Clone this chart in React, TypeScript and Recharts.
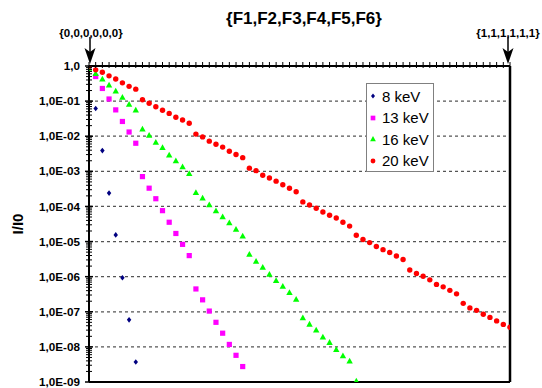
import { ScatterChart, Scatter, XAxis, YAxis, ReferenceLine, Legend } from 'recharts';

// index of the {F1..F6} configuration, 0 = {0,0,0,0,0,0} ... 63 = {1,1,1,1,1,1}
// values are log10(I/I0)
const kev8 = [0, -1.21, -2.41, -3.62, -4.81, -6.03, -7.23, -8.43];
const kev13 = [
  -0.03, -0.3, -0.64, -0.94, -1.25, -1.58, -1.88, -2.2,
  -3.15, -3.48, -3.78, -4.12, -4.45, -4.77, -5.08, -5.4,
  -6.35, -6.66, -6.98, -7.3, -7.61, -7.93, -8.24, -8.56,
];
const kev16 = [
  -0.06, -0.21, -0.37, -0.54, -0.71, -0.89, -1.09, -1.25,
  -1.79, -1.97, -2.17, -2.32, -2.53, -2.7, -2.87, -3.06,
  -3.6, -3.76, -3.95, -4.12, -4.29, -4.46, -4.65, -4.84,
  -5.36, -5.56, -5.73, -5.93, -6.11, -6.27, -6.45, -6.64,
  -7.17, -7.35, -7.52, -7.72, -7.87, -8.07, -8.25, -8.4,
  -8.97,
];
const kev20 = [
  0, -0.11, -0.18, -0.28, -0.37, -0.48, -0.58, -0.66,
  -0.96, -1.06, -1.16, -1.26, -1.35, -1.46, -1.54, -1.63,
  -1.94, -2.02, -2.14, -2.23, -2.31, -2.43, -2.52, -2.61,
  -2.91, -2.98, -3.11, -3.19, -3.28, -3.38, -3.48, -3.58,
  -3.87, -3.96, -4.05, -4.16, -4.25, -4.33, -4.45, -4.56,
  -4.82, -4.94, -5.03, -5.14, -5.23, -5.31, -5.41, -5.51,
  -5.81, -5.91, -5.99, -6.09, -6.22, -6.29, -6.39, -6.49,
  -6.76, -6.89, -6.96, -7.07, -7.16, -7.26, -7.36, -7.44,
];

const decadeTicks = [1, 1e-1, 1e-2, 1e-3, 1e-4, 1e-5, 1e-6, 1e-7, 1e-8, 1e-9];
const decadeLabels = ['1,0', '1,0E-01', '1,0E-02', '1,0E-03', '1,0E-04', '1,0E-05', '1,0E-06', '1,0E-07', '1,0E-08', '1,0E-09'];
const minorSteps = [2, 3, 4, 5, 6, 7, 8, 9];
const xTicks = Array.from({ length: 64 }, (_, i) => i);

const FONT = "'Liberation Sans', Arial, sans-serif";

const toPoints = (vals: number[]) => vals.map((v, i) => ({ x: i, y: Math.pow(10, v) }));

const series = [
  { name: '8 keV', data: toPoints(kev8), color: '#000080', kind: 'diamond' },
  { name: '13 keV', data: toPoints(kev13), color: '#ff00ff', kind: 'square' },
  { name: '16 keV', data: toPoints(kev16), color: '#00ff00', kind: 'triangle' },
  { name: '20 keV', data: toPoints(kev20), color: '#ff0000', kind: 'circle' },
];

const yTicks: number[] = [...decadeTicks];
decadeTicks.slice(1).forEach((d) => minorSteps.forEach((m) => yTicks.push(d * m)));

const marker = (kind: string, color: string, cx: number, cy: number, s = 1) => {
  if (kind === 'circle') return <circle cx={cx} cy={cy} r={2.7 * s} fill={color} />;
  if (kind === 'square') return <rect x={cx - 2.6 * s} y={cy - 2.6 * s} width={5.2 * s} height={5.2 * s} fill={color} />;
  if (kind === 'triangle') {
    const h = 3.2 * s;
    return <polygon points={`${cx},${cy - h} ${cx + h},${cy + h * 0.8} ${cx - h},${cy + h * 0.8}`} fill={color} />;
  }
  const d = 2.8 * s;
  return <polygon points={`${cx},${cy - d} ${cx + d * 0.8},${cy} ${cx},${cy + d} ${cx - d * 0.8},${cy}`} fill={color} />;
};

const shapeFor = (kind: string, color: string) => (props: any) => marker(kind, color, props.cx, props.cy);

const YTick = (props: any) => {
  const { x, y, payload } = props;
  const v = payload.value;
  const idx = decadeTicks.findIndex((d) => Math.abs(Math.log10(d) - Math.log10(v)) < 1e-6);
  if (idx < 0) return <line x1={x - 3} x2={x + 3} y1={y} y2={y} stroke="#000" strokeWidth={1} />;
  return (
    <g>
      <line x1={x - 4} x2={x + 4} y1={y} y2={y} stroke="#000" strokeWidth={1.5} />
      <text x={x - 9} y={y} dy="0.35em" textAnchor="end" fontFamily={FONT} fontWeight="bold" fontSize={11.7} fill="#000">
        {decadeLabels[idx]}
      </text>
    </g>
  );
};

const XTick = (props: any) => {
  const { x, y } = props;
  return <line x1={x} x2={x} y1={y - 4} y2={y + 2} stroke="#000" strokeWidth={1} />;
};

const LegendBox = () => (
  <div
    style={{
      width: 68,
      height: 89,
      boxSizing: 'border-box',
      border: '1.5px solid #808080',
      background: '#fff',
      paddingTop: 1.5,
      fontFamily: FONT,
      fontSize: 15,
      color: '#000',
    }}
  >
    {series.map((s) => (
      <div key={s.name} style={{ display: 'flex', alignItems: 'center', height: 21.5, paddingLeft: 1 }}>
        <svg width={10} height={10}>{marker(s.kind, s.color, 5, 5, 0.9)}</svg>
        <span style={{ marginLeft: 4, whiteSpace: 'nowrap' }}>{s.name}</span>
      </div>
    ))}
  </div>
);

const Arrow = ({ x }: { x: number }) => (
  <g>
    <line x1={x} x2={x} y1={37} y2={52} stroke="#000" strokeWidth={1.5} />
    <polygon points={`${x},64 ${x - 5.5},48 ${x},52 ${x + 5.5},48`} fill="#000" />
  </g>
);

const App = () => {
  return (
    <div style={{ position: 'absolute', left: 0, top: 0, width: 542, height: 388, background: '#fff' }}>
      <ScatterChart width={542} height={388} margin={{ top: 65, right: 32, bottom: 6, left: 0 }}>
        <XAxis
          xAxisId={0}
          type="number"
          dataKey="x"
          orientation="top"
          height={1}
          domain={[0, 63]}
          ticks={xTicks}
          interval={0}
          tickSize={0}
          tickMargin={0}
          tick={<XTick />}
          axisLine={{ stroke: '#000', strokeWidth: 2 }}
          allowDataOverflow
        />
        <YAxis
          yAxisId={0}
          type="number"
          dataKey="y"
          scale="log"
          domain={[1e-9, 1]}
          ticks={yTicks}
          interval={0}
          width={89}
          tickSize={0}
          tickMargin={0}
          tick={<YTick />}
          axisLine={{ stroke: '#000', strokeWidth: 2 }}
          allowDataOverflow
        />
        {decadeTicks.slice(1, 9).map((d) => (
          <ReferenceLine key={d} y={d} stroke="#555" strokeWidth={1.2} strokeDasharray="3 3" />
        ))}
        <ReferenceLine x={63} stroke="#000" strokeWidth={2.5} />
        <ReferenceLine y={1e-9} stroke="#000" strokeWidth={2} />
        <Legend
          layout="vertical"
          align="center"
          verticalAlign="middle"
          content={<LegendBox />}
          wrapperStyle={{ left: 366, top: 83, width: 68, height: 89 }}
        />
        {series.map((s) => (
          <Scatter
            key={s.name}
            name={s.name}
            data={s.data}
            fill={s.color}
            shape={shapeFor(s.kind, s.color)}
            isAnimationActive={false}
          />
        ))}
      </ScatterChart>
      <svg width={542} height={388} style={{ position: 'absolute', left: 0, top: 0, pointerEvents: 'none' }}>
        <text x={304} y={18} dy="0.35em" textAnchor="middle" fontFamily={FONT} fontWeight="bold" fontSize={17}>
          {'{F1,F2,F3,F4,F5,F6}'}
        </text>
        <text x={91} y={32.5} dy="0.35em" textAnchor="middle" fontFamily={FONT} fontWeight="bold" fontSize={11.5}>
          {'{0,0,0,0,0,0}'}
        </text>
        <text x={508} y={33} dy="0.35em" textAnchor="middle" fontFamily={FONT} fontWeight="bold" fontSize={11.5}>
          {'{1,1,1,1,1,1}'}
        </text>
        <Arrow x={90} />
        <Arrow x={508} />
        <text
          x={18}
          y={224}
          dy="0.35em"
          textAnchor="middle"
          transform="rotate(-90 18 224)"
          fontFamily={FONT}
          fontWeight="bold"
          fontSize={15}
        >
          I/I0
        </text>
      </svg>
    </div>
  );
};

export default App;
